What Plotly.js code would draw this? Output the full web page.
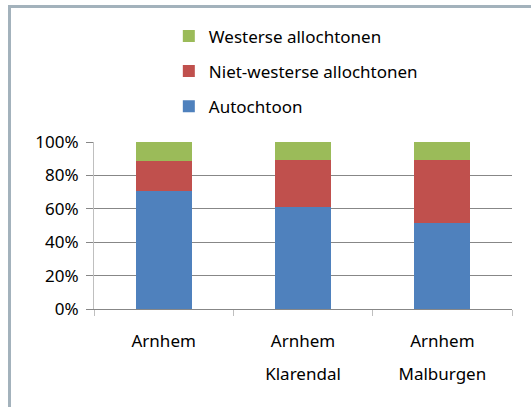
<!DOCTYPE html>
<html>
<head>
<meta charset="utf-8">
<script src="https://cdn.plot.ly/plotly-3.0.1.min.js"></script>
<style>
  html, body { margin: 0; padding: 0; background: #fff; overflow: hidden; }
  #chart { position: absolute; left: 0; top: 0; width: 531px; height: 407px; }
  #frame { position: absolute; left: 8px; top: 5px; width: 600px; height: 500px;
           border-top: 3px solid #a3b2bc; border-left: 3px solid #a3b2bc; pointer-events: none; }
</style>
</head>
<body>
<div id="chart"></div>
<div id="frame"></div>
<script>
const categories = ['Arnhem', 'Arnhem Klarendal', 'Arnhem Malburgen'];
const tickLine1 = ['Arnhem', 'Arnhem', 'Arnhem'];
const tickLine2 = ['', 'Klarendal', 'Malburgen'];
const autochtoon = [70.6, 61.0, 51.6];
const nietWesterse = [17.8, 28.4, 37.4];
const westerse = [11.6, 10.6, 11.0];
const yTicks = [0, 20, 40, 60, 80, 100];

const FONT = 'Noto Sans, Open Sans, sans-serif';
const FS = 17;
const idx = categories.map((c, i) => i);

const traces = [
  { name: 'Autochtoon', y: autochtoon, color: '#4f81bd', rank: 3 },
  { name: 'Niet-westerse allochtonen', y: nietWesterse, color: '#c0504d', rank: 2 },
  { name: 'Westerse allochtonen', y: westerse, color: '#9bbb59', rank: 1 }
].map(s => ({
  type: 'bar', x: categories, y: s.y, name: s.name, legendgroup: s.name, legendrank: s.rank,
  marker: { color: s.color, line: { width: 0 } }, hoverinfo: 'name+y'
}));

const layout = {
  width: 531, height: 407,
  margin: { l: 94, r: 19, t: 142, b: 98, pad: 0 },
  paper_bgcolor: '#ffffff', plot_bgcolor: '#ffffff',
  font: { family: FONT, size: FS, color: '#000000' },
  barmode: 'stack', bargap: 0.6,
  showlegend: true,
  legend: {
    x: 0.179, xanchor: 'left', y: 1.74, yanchor: 'top',
    traceorder: 'grouped', tracegroupgap: 10,
    font: { family: FONT, size: FS, color: '#000' },
    bgcolor: 'rgba(0,0,0,0)'
  },
  xaxis: {
    type: 'category', categoryorder: 'array', categoryarray: categories,
    tickmode: 'array', tickvals: categories, ticktext: tickLine1,
    tickson: 'boundaries', ticks: 'outside', ticklen: 6, tickcolor: '#bfbfbf', tickwidth: 1,
    showline: true, linecolor: '#878787', linewidth: 1,
    showgrid: false, ticklabelstandoff: 17,
    tickfont: { family: FONT, size: FS, color: '#000' }, fixedrange: true
  },
  xaxis2: {
    overlaying: 'x', side: 'bottom', type: 'linear', range: [-0.5, 2.5],
    tickmode: 'array', tickvals: idx, ticktext: tickLine2,
    ticks: '', showline: false, showgrid: false, zeroline: false,
    ticklabelstandoff: 53,
    tickfont: { family: FONT, size: FS, color: '#000' }, fixedrange: true
  },
  yaxis: {
    range: [0, 100], tickmode: 'array', tickvals: yTicks,
    ticktext: yTicks.map(v => v + '%'),
    ticks: 'outside', ticklen: 7, tickcolor: '#878787', tickwidth: 1,
    showline: true, linecolor: '#bfbfbf', linewidth: 1,
    showgrid: true, gridcolor: '#878787', gridwidth: 1, zeroline: false,
    ticklabelstandoff: 4,
    tickfont: { family: FONT, size: FS, color: '#000' }, fixedrange: true
  }
};

// invisible helper trace so xaxis2 renders its tick labels
const helper = { type: 'scatter', x: idx, y: [null, null, null], xaxis: 'x2', yaxis: 'y',
  showlegend: false, hoverinfo: 'skip', mode: 'markers' };

Plotly.newPlot('chart', traces.concat([helper]), layout, { displayModeBar: false, staticPlot: true });
</script>
</body>
</html>
